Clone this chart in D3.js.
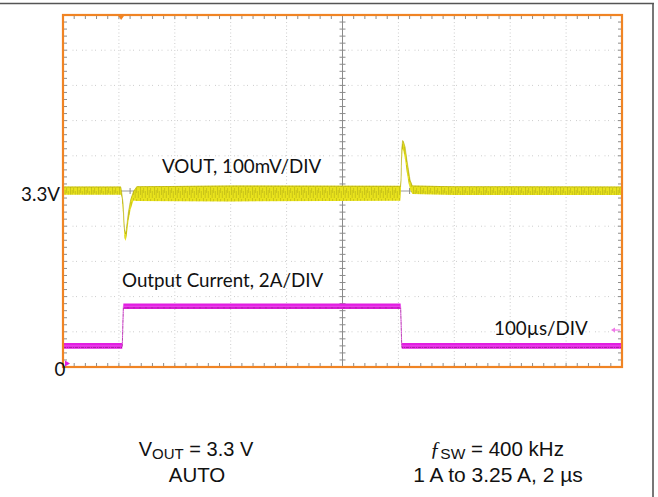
<!DOCTYPE html>
<html>
<head>
<meta charset="utf-8">
<script src="https://cdn.jsdelivr.net/npm/d3@7"></script>
<style>
  html, body { margin: 0; padding: 0; background: #fff; }
  svg { display: block; }
</style>
</head>
<body>
<svg id="chart" width="658" height="497"></svg>
<script>
// Scope settings
const divisionsX = 10;
const divisionsY = 10;
const timePerDiv = 100;      // µs / div
const voutPerDiv = 0.1;      // V / div
const currentPerDiv = 2;     // A / div
const voutCenter = 3.3;      // V at screen centre
const currentZeroDiv = 0.1;  // ground marker offset from the bottom, div

// VOUT trace envelope (time in µs, low / high in V)
const voutTime = [0, 103.5, 105, 107.5, 110, 112, 114, 117, 121, 126, 132, 300, 603.5, 604.5, 606, 607.5, 609, 612, 615, 618, 621, 625, 700, 1000];
const voutLow  = [3.291, 3.291, 3.285, 3.235, 3.168, 3.160, 3.175, 3.215, 3.250, 3.275, 3.273, 3.272, 3.274, 3.300, 3.380, 3.420, 3.415, 3.390, 3.355, 3.325, 3.305, 3.293, 3.290, 3.290];
const voutHigh = [3.311, 3.311, 3.296, 3.265, 3.190, 3.178, 3.200, 3.240, 3.275, 3.298, 3.312, 3.314, 3.313, 3.330, 3.420, 3.443, 3.440, 3.425, 3.390, 3.360, 3.330, 3.314, 3.312, 3.311];

// Output current trace (time in µs, current in A): 1 A to 3.25 A, 2 µs edges
const currentTime  = [0, 106, 108, 604, 606, 1000];
const currentValue = [1.0, 1.0, 3.25, 3.25, 1.0, 1.0];

// Markers
const triggerTime = 104;     // µs
const triggerLevel = 1.9;    // A

const svg = d3.select("#chart");

const plot = { left: 63, right: 622, top: 15, bottom: 367 };

const x = d3.scaleLinear()
  .domain([0, divisionsX * timePerDiv])
  .range([plot.left, plot.right]);

const yV = d3.scaleLinear()
  .domain([voutCenter - voutPerDiv * divisionsY / 2, voutCenter + voutPerDiv * divisionsY / 2])
  .range([plot.bottom, plot.top]);

const yI = d3.scaleLinear()
  .domain([-currentZeroDiv * currentPerDiv, (divisionsY - currentZeroDiv) * currentPerDiv])
  .range([plot.bottom, plot.top]);

const yDiv = d3.scaleLinear().domain([0, divisionsY]).range([plot.bottom, plot.top]);
const xDiv = d3.scaleLinear().domain([0, divisionsX]).range([plot.left, plot.right]);

// Outer page frame
svg.append("line").attr("x1", 0).attr("x2", 654).attr("y1", 3.5).attr("y2", 3.5)
  .attr("stroke", "#555").attr("stroke-width", 1.6);
svg.append("line").attr("x1", 653).attr("x2", 653).attr("y1", 3).attr("y2", 497)
  .attr("stroke", "#555").attr("stroke-width", 1.6);

// Ripple texture for the VOUT trace
const defs = svg.append("defs");
const pat = defs.append("pattern")
  .attr("id", "ripple").attr("patternUnits", "userSpaceOnUse")
  .attr("width", 7).attr("height", 11);
[[0.5, 0, 8], [2.2, 3, 11], [3.6, 1, 6], [5.3, 4, 11]].forEach(([px, a, b]) => {
  pat.append("line").attr("x1", px).attr("x2", px).attr("y1", a).attr("y2", b)
    .attr("stroke", "#76700e").attr("stroke-width", 0.6);
});
defs.append("clipPath").attr("id", "plotClip").append("rect")
  .attr("x", plot.left).attr("y", plot.top)
  .attr("width", plot.right - plot.left).attr("height", plot.bottom - plot.top);

// Graticule: dotted grid
const grid = svg.append("g");
d3.range(1, divisionsX).forEach(i => {
  if (i === divisionsX / 2) return;
  grid.append("line")
    .attr("x1", xDiv(i)).attr("x2", xDiv(i))
    .attr("y1", plot.top).attr("y2", plot.bottom)
    .attr("stroke", "#cdcdcd").attr("stroke-width", 1)
    .attr("stroke-dasharray", "1,2.5");
});
d3.range(1, divisionsY).forEach(i => {
  if (i === divisionsY / 2) return;
  grid.append("line")
    .attr("x1", plot.left).attr("x2", plot.right)
    .attr("y1", yDiv(i)).attr("y2", yDiv(i))
    .attr("stroke", "#cdcdcd").attr("stroke-width", 1)
    .attr("stroke-dasharray", "1,2.5,1,5");
});

// Centre axes with minor ticks
const cx = xDiv(divisionsX / 2), cy = yDiv(divisionsY / 2);
grid.append("line").attr("x1", cx).attr("x2", cx).attr("y1", plot.top).attr("y2", plot.bottom)
  .attr("stroke", "#8a8a8a").attr("stroke-width", 1);
grid.append("line").attr("x1", plot.left).attr("x2", plot.right).attr("y1", cy).attr("y2", cy)
  .attr("stroke", "#9a9a9a").attr("stroke-width", 1);

const minorY = d3.range(0, divisionsY * 5 + 1).map(k => yDiv(k / 5));
const minorX = d3.range(0, divisionsX * 5 + 1).map(k => xDiv(k / 5));
const tickCol = "#8c8c8c";
minorY.forEach(yy => {
  grid.append("line").attr("x1", cx - 3).attr("x2", cx + 3).attr("y1", yy).attr("y2", yy).attr("stroke", tickCol);
  grid.append("line").attr("x1", plot.left).attr("x2", plot.left + 4).attr("y1", yy).attr("y2", yy).attr("stroke", tickCol);
  grid.append("line").attr("x1", plot.right - 4).attr("x2", plot.right).attr("y1", yy).attr("y2", yy).attr("stroke", tickCol);
});
minorX.forEach(xx => {
  grid.append("line").attr("x1", xx).attr("x2", xx).attr("y1", cy - 3).attr("y2", cy + 3).attr("stroke", tickCol);
  grid.append("line").attr("x1", xx).attr("x2", xx).attr("y1", plot.top).attr("y2", plot.top + 4).attr("stroke", tickCol);
  grid.append("line").attr("x1", xx).attr("x2", xx).attr("y1", plot.bottom - 4).attr("y2", plot.bottom).attr("stroke", tickCol);
});

// Traces
const traces = svg.append("g").attr("clip-path", "url(#plotClip)");

const voutRows = voutTime.map((t, i) => ({ t, lo: voutLow[i], hi: voutHigh[i] }));
const voutArea = d3.area()
  .x(d => x(d.t))
  .y0(d => yV(d.lo) + 0.6)
  .y1(d => yV(d.hi) - 0.6);
traces.append("path").datum(voutRows).attr("d", voutArea).attr("fill", "#e8e21c");
traces.append("path").datum(voutRows).attr("d", voutArea).attr("fill", "url(#ripple)").attr("opacity", 0.45);
traces.append("path").datum(voutRows)
  .attr("d", d3.line().x(d => x(d.t)).y(d => yV(d.hi)))
  .attr("fill", "none").attr("stroke", "#a49c14").attr("stroke-width", 0.8).attr("opacity", 0.6);

// Current trace drawn as a band so the 2 µs edges stay thin
const currentRows = currentTime.map((t, i) => ({ t, v: currentValue[i] }));
const halfBand = 2.8;
traces.append("path").datum(currentRows)
  .attr("d", d3.area().x(d => x(d.t)).y0(d => yI(d.v) + halfBand).y1(d => yI(d.v) - halfBand))
  .attr("fill", "#e21ee2");
traces.append("path").datum(currentRows)
  .attr("d", d3.line().x(d => x(d.t)).y(d => yI(d.v)))
  .attr("fill", "none").attr("stroke", "#ec5aec").attr("stroke-width", 0.8);
traces.append("path").datum(currentRows)
  .attr("d", d3.line().x(d => x(d.t)).y(d => yI(d.v) + 1.6))
  .attr("fill", "none").attr("stroke", "#6a1a5a").attr("stroke-width", 0.8)
  .attr("stroke-dasharray", "3,1,1,1").attr("opacity", 0.55);

// Orange graticule frame
svg.append("rect")
  .attr("x", plot.left).attr("y", plot.top)
  .attr("width", plot.right - plot.left).attr("height", plot.bottom - plot.top)
  .attr("fill", "none").attr("stroke", "#f08424").attr("stroke-width", 2.2);

// Trigger position marker (top) and ground / trigger level markers
const tx = x(triggerTime);
svg.append("path")
  .attr("d", `M${tx - 3.5},${plot.top} L${tx + 3.5},${plot.top} L${tx},${plot.top + 5} Z`)
  .attr("fill", "#f08424");
const gy = yI(0);
svg.append("path")
  .attr("d", `M${plot.left + 2},${gy - 3} L${plot.left + 7},${gy} L${plot.left + 2},${gy + 3} Z`)
  .attr("fill", "#e21ee2");
const ty = yI(triggerLevel);
svg.append("path")
  .attr("d", `M${plot.right - 11},${ty} L${plot.right - 7},${ty - 2.5} L${plot.right - 7},${ty + 2.5} Z`)
  .attr("fill", "#f07ae8");
svg.append("line").attr("x1", plot.right - 8).attr("x2", plot.right - 2).attr("y1", ty).attr("y2", ty)
  .attr("stroke", "#f07ae8").attr("stroke-width", 1.2);

// In-plot annotations
const lab = "Lato, 'Noto Sans', sans-serif";
function note(txt, xx, yy, anchor) {
  svg.append("text").attr("x", xx).attr("y", yy)
    .attr("text-anchor", anchor || "start")
    .attr("font-family", lab).attr("font-size", 18.8).attr("fill", "#111")
    .text(txt);
}
note("3.3V", 60, yV(voutCenter) + 10, "end");
note("0", 60, 376, "middle");
note("VOUT, 100mV/DIV", 162, 173);
note("Output Current, 2A/DIV", 122, 287);
note("100µs/DIV", 494, 335);

// Test conditions below the plot
const cond = "'Liberation Sans', Arial, sans-serif";
const t1 = svg.append("text").attr("x", 196).attr("y", 456).attr("text-anchor", "middle")
  .attr("font-family", cond).attr("font-size", 20).attr("fill", "#111");
t1.append("tspan").text("V");
t1.append("tspan").attr("font-size", 15).attr("dy", 3).text("OUT");
t1.append("tspan").attr("dy", -3).text(" = 3.3 V");

svg.append("text").attr("x", 197).attr("y", 482).attr("text-anchor", "middle")
  .attr("font-family", cond).attr("font-size", 20.5).attr("fill", "#111").text("AUTO");

const t2 = svg.append("text").attr("x", 497).attr("y", 456).attr("text-anchor", "middle")
  .attr("font-family", cond).attr("font-size", 20.5).attr("fill", "#111");
t2.append("tspan").attr("font-family", "'Liberation Serif', serif").attr("font-style", "italic").text("ƒ");
t2.append("tspan").attr("font-size", 15.5).attr("dy", 3).text("SW");
t2.append("tspan").attr("dy", -3).text(" = 400 kHz");

svg.append("text").attr("x", 498).attr("y", 482).attr("text-anchor", "middle")
  .attr("font-family", cond).attr("font-size", 21).attr("fill", "#111").text("1 A to 3.25 A, 2 µs");
</script>
</body>
</html>
